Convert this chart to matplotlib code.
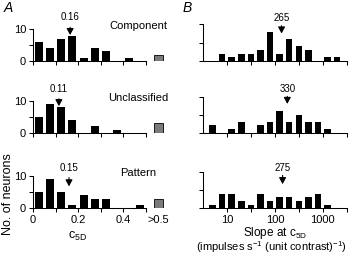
import matplotlib
matplotlib.use('Agg')
import matplotlib.pyplot as plt
import numpy as np

plt.rcParams['font.family'] = ['Liberation Sans', 'DejaVu Sans']
plt.rcParams['mathtext.fontset'] = 'custom'
plt.rcParams['mathtext.rm'] = 'Liberation Sans'

# --- data -------------------------------------------------------------
# panel A: c5D histograms, bins of 0.05 from 0 to 0.5
a_centers = [0.025, 0.075, 0.125, 0.175, 0.225, 0.275, 0.325, 0.375, 0.425, 0.475]
a_component = [6, 4, 7, 8, 1, 4, 3, 0, 1, 0]
a_unclassified = [5, 9, 8, 4, 0, 2, 0, 1, 0, 0]
a_pattern = [5, 9, 5, 1, 4, 3, 3, 0, 0, 1]
a_over = [2, 3, 3]                 # counts for c5D > 0.5
a_median = ['0.16', '0.11', '0.15']
a_arrow_x = [0.165, 0.115, 0.16]

# panel B: slope histograms, log10 bin centres
b_log = [0.7, 0.9, 1.1, 1.3, 1.5, 1.7, 1.9, 2.1, 2.3, 2.5, 2.7, 2.9, 3.1, 3.3]
b_component = [0, 2, 1, 2, 2, 3, 8, 2, 6, 4, 3, 0, 1, 1]
b_unclassified = [2, 0, 1, 3, 0, 2, 3, 6, 3, 5, 3, 3, 1, 0]
b_pattern = [1, 4, 4, 2, 1, 4, 2, 3, 3, 2, 3, 4, 1, 0]
b_median = ['265', '330', '275']
b_arrow_x = [138, 182, 145]

names = ['Component', 'Unclassified', 'Pattern']

W, H = 360, 256
fig = plt.figure(figsize=(W / 100, H / 100), dpi=100)


def px_axes(x0, x1, ybot, ytop):
    return fig.add_axes([x0 / W, 1 - ybot / H, (x1 - x0) / W, (ybot - ytop) / H])


def style(ax):
    for s in ['top', 'right']:
        ax.spines[s].set_visible(False)
    ax.spines['left'].set_linewidth(0.75)
    ax.spines['bottom'].set_linewidth(0.75)
    ax.spines['left'].set_bounds(0, 10)
    ax.tick_params(direction='out', length=3, width=0.75, labelsize=8, pad=2)
    ax.set_ylim(0, 10)
    ax.set_yticks([0, 5, 10])
    ax.patch.set_visible(False)


def arrow(ax, x, tip, tail, lab, txt):
    ax.annotate('', xy=(x, tip), xytext=(x, tail),
                arrowprops=dict(arrowstyle='-|>,head_length=0.55,head_width=0.3',
                                color='black', lw=0.8, mutation_scale=7,
                                shrinkA=0, shrinkB=0),
                annotation_clip=False)
    ax.text(x, lab, txt, ha='center', va='center', fontsize=7, clip_on=False)


# row positions in pixels (baseline, top of the 0-10 range)
a_rows = [(61, 29.3), (132.7, 100.7), (208.3, 176)]
b_rows = [(61, 24.3), (132.7, 96.7), (208.3, 171.7)]
a_arrow = [(8.2, 10.6, 13.8), (8.3, 10.6, 13.6), (6.8, 9.5, 12.4)]
b_arrow = [(7.5, 9.6, 11.8), (8, 10.1, 12.0), (6.6, 9.0, 11.0)]

a_data = [a_component, a_unclassified, a_pattern]
b_data = [b_component, b_unclassified, b_pattern]

for i in range(3):
    # ----- panel A
    ax = px_axes(33, 168, *a_rows[i])
    style(ax)
    ax.bar(a_centers, a_data[i], width=0.036, color='black')
    ax.bar([0.556], [a_over[i]], width=0.04, color='#7a7a7a', edgecolor='black', linewidth=0.6)
    ax.set_xlim(0, 0.6)
    ax.spines['bottom'].set_bounds(0, 0.5)
    ax.set_xticks([0, 0.1, 0.2, 0.3, 0.4, 0.5])
    ax.set_yticklabels(['0', '', '10'])
    if i == 2:
        ax.set_xticklabels(['0', '', '0.2', '', '0.4', ''])
        ax.tick_params(axis='x', pad=2)
    else:
        ax.set_xticklabels([])
    arrow(ax, a_arrow_x[i], *a_arrow[i], a_median[i])
    fig.text(138 / W, 1 - (a_rows[i][1] - 3) / H, names[i], ha='center', va='center', fontsize=8)

    # ----- panel B
    bx = px_axes(203, 346.7, *b_rows[i])
    style(bx)
    bx.set_xscale('log')
    lo = [10 ** (c - 0.068) for c in b_log]
    hi = [10 ** (c + 0.068) for c in b_log]
    bx.bar(lo, b_data[i], width=np.array(hi) - np.array(lo), align='edge', color='black')
    bx.set_xlim(10 ** 0.5, 10 ** 3.5)
    bx.set_xticks([10, 10 ** 1.5, 100, 10 ** 2.5, 1000, 10 ** 3.5])
    bx.xaxis.set_minor_locator(matplotlib.ticker.NullLocator())
    bx.set_yticklabels([])
    if i == 2:
        bx.set_xticklabels(['10', '', '100', '', '1000', ''])
        bx.tick_params(axis='x', pad=2)
    else:
        bx.set_xticklabels([])
    arrow(bx, b_arrow_x[i], *b_arrow[i], b_median[i])

# extra labels
fig.text(158 / W, 1 - 220 / H, '>0.5', ha='center', va='center', fontsize=8)
fig.text(78 / W, 1 - 236 / H, r'c$_{\mathregular{5D}}$', ha='center', va='center', fontsize=9)
fig.text(275 / W, 1 - 233 / H, r'Slope at c$_{\mathregular{5D}}$', ha='center', va='center', fontsize=8.5)
fig.text(271 / W, 1 - 247.5 / H,
         r'(impulses s$^{\mathregular{-1}}$ (unit contrast)$^{\mathregular{-1}}$)',
         ha='center', va='center', fontsize=8)
fig.text(8 / W, 1 - 194 / H, 'No. of neurons', rotation=90, ha='center', va='center', fontsize=9)
fig.text(4 / W, 1 - 8 / H, 'A', ha='left', va='center', fontsize=10, style='italic')
fig.text(183 / W, 1 - 8 / H, 'B', ha='left', va='center', fontsize=10, style='italic')

fig.savefig('out.png', dpi=100)
